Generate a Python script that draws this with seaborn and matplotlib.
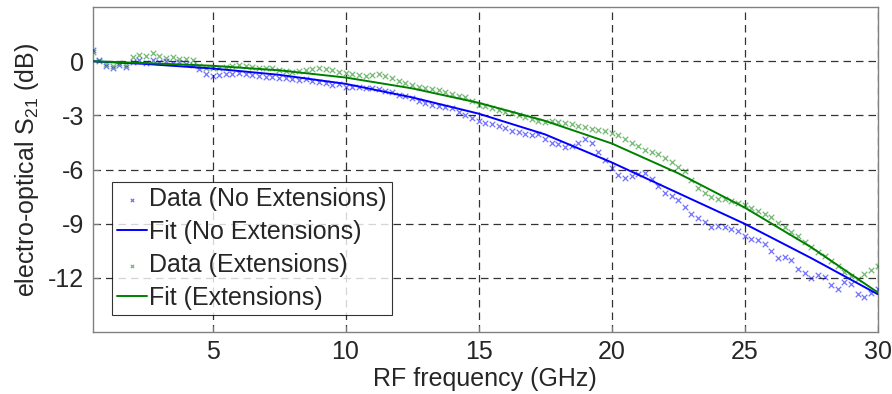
import numpy as np
import pandas as pd
import matplotlib
matplotlib.use("Agg")
import matplotlib.pyplot as plt
import seaborn as sns

# measured data, sampled every 0.25 GHz from 0.5 to 30 GHz
freq_data = np.arange(0.5, 30.01, 0.25)
s21_no_ext = [
    0.65, 0.05, -0.25, -0.35, -0.2, -0.3, -0.05, 0.05, -0.1, 0.05,
    -0.05, 0.0, -0.1, -0.05, -0.15, -0.2, -0.45, -0.7, -0.8, -0.75,
    -0.7, -0.72, -0.65, -0.72, -0.75, -0.8, -0.85, -0.88, -0.9, -0.95,
    -1.0, -1.05, -1.0, -1.1, -1.15, -1.2, -1.3, -1.28, -1.4, -1.42,
    -1.45, -1.5, -1.5, -1.55, -1.65, -1.7, -1.85, -1.95, -2.05, -2.2,
    -2.3, -2.4, -2.5, -2.55, -2.6, -2.8, -3.0, -3.15, -3.3, -3.4,
    -3.5, -3.6, -3.7, -3.85, -3.9, -4.0, -4.1, -4.0, -4.3, -4.5,
    -4.6, -4.75, -4.7, -4.5, -4.3, -4.5, -5.0, -5.45, -5.9, -6.3,
    -6.45, -6.35, -6.25, -6.2, -6.5, -6.9, -7.3, -7.45, -7.7, -8.05,
    -8.45, -8.7, -8.9, -9.2, -9.1, -9.15, -9.3, -9.4, -9.65, -9.85,
    -9.9, -10.1, -10.5, -10.9, -10.85, -11.0, -11.5, -11.75, -12.0, -11.85,
    -11.95, -12.4, -12.6, -12.2, -12.35, -12.9, -13.05, -12.85, -12.6,
]
s21_ext = [
    0.5, 0.0, -0.15, -0.25, -0.1, -0.2, 0.25, 0.35, 0.3, 0.45,
    0.3, 0.2, 0.25, 0.15, 0.1, 0.05, -0.25, -0.4, -0.4, -0.35,
    -0.3, -0.25, -0.2, -0.25, -0.3, -0.35, -0.35, -0.4, -0.5, -0.55,
    -0.6, -0.55, -0.5, -0.45, -0.4, -0.45, -0.5, -0.6, -0.65, -0.7,
    -0.75, -0.8, -0.75, -0.7, -0.8, -0.95, -1.1, -1.2, -1.3, -1.4,
    -1.5, -1.55, -1.6, -1.7, -1.8, -1.9, -2.0, -2.2, -2.4, -2.5,
    -2.6, -2.7, -2.8, -2.85, -2.95, -3.1, -3.2, -3.3, -3.35, -3.3,
    -3.35, -3.4, -3.5, -3.6, -3.65, -3.75, -3.8, -3.85, -3.95, -4.1,
    -4.3, -4.5, -4.7, -4.9, -5.05, -5.15, -5.35, -5.6, -5.85, -6.1,
    -6.6, -7.0, -7.3, -7.5, -7.6, -7.65, -7.75, -7.85, -7.95, -8.1,
    -8.3, -8.45, -8.6, -8.95, -9.2, -9.45, -9.7, -10.0, -10.3, -10.55,
    -10.8, -11.05, -11.35, -11.65, -11.9, -12.05, -11.8, -11.55, -11.35,
]

# fitted curves
freq_fit = [0.5, 2.5, 5, 7.5, 10, 12.5, 15, 17.5, 20, 22.5, 25, 27.5, 30]
fit_no_ext = [0.0, -0.15, -0.4, -0.75, -1.25, -2.0, -2.9, -4.05, -5.6, -7.3, -9.0, -10.9, -12.9]
fit_ext = [0.0, -0.1, -0.25, -0.5, -0.9, -1.5, -2.3, -3.3, -4.55, -6.2, -8.1, -10.3, -12.8]

x_ticks = [5, 10, 15, 20, 25, 30]
y_ticks = [0, -3, -6, -9, -12]

BLUE = "#0000ff"
GREEN = "#008000"
FS = 18


def main():
    sns.set_style("ticks")
    plt.rcParams["font.family"] = ["Liberation Sans", "DejaVu Sans"]
    plt.rcParams["mathtext.fontset"] = "custom"
    plt.rcParams["mathtext.rm"] = "Liberation Sans"
    plt.rcParams["mathtext.it"] = "Liberation Sans"
    plt.rcParams["axes.unicode_minus"] = False

    data = pd.DataFrame({"f": freq_data, "no_ext": s21_no_ext, "ext": s21_ext})
    fit = pd.DataFrame({"f": freq_fit, "no_ext": fit_no_ext, "ext": fit_ext})

    fig = plt.figure(figsize=(8.92, 3.94), dpi=100)
    ax = fig.add_axes([0.104, 0.157, 0.880, 0.825])

    sns.scatterplot(data=data, x="f", y="no_ext", ax=ax, marker="x", s=16,
                    color=BLUE, alpha=0.55, linewidth=0.9,
                    label="Data (No Extensions)", zorder=3)
    sns.lineplot(data=fit, x="f", y="no_ext", ax=ax, color=BLUE, lw=1.4,
                 label="Fit (No Extensions)", zorder=4)
    sns.scatterplot(data=data, x="f", y="ext", ax=ax, marker="x", s=16,
                    color=GREEN, alpha=0.55, linewidth=0.9,
                    label="Data (Extensions)", zorder=3)
    sns.lineplot(data=fit, x="f", y="ext", ax=ax, color=GREEN, lw=1.4,
                 label="Fit (Extensions)", zorder=4)

    ax.set_xlim(0.5, 30)
    ax.set_ylim(-15, 3)
    ax.set_xticks(x_ticks)
    ax.set_yticks(y_ticks)
    ax.tick_params(direction="in", length=4, color="#777777", labelsize=FS,
                   pad=6, top=False, right=False)
    ax.grid(True, color="#333333", linestyle=(0, (6, 4)), linewidth=0.9)
    for sp in ax.spines.values():
        sp.set_visible(True)
        sp.set_color("#808080")
        sp.set_linewidth(1.0)

    ax.set_xlabel("RF frequency (GHz)", fontsize=FS, labelpad=2)
    ax.set_ylabel("electro-optical S$_{21}$ (dB)", fontsize=FS, labelpad=5)

    leg = ax.legend(loc="lower left", fontsize=FS, frameon=True, fancybox=False,
                    handlelength=1.2, handletextpad=0.1, borderpad=0.2,
                    labelspacing=0.36, borderaxespad=0.0,
                    bbox_to_anchor=(0.024, 0.052), markerscale=0.6)
    leg.get_frame().set_edgecolor("black")
    leg.get_frame().set_linewidth(0.8)

    fig.savefig("out.png", dpi=100)
    plt.close(fig)


if __name__ == "__main__":
    main()
